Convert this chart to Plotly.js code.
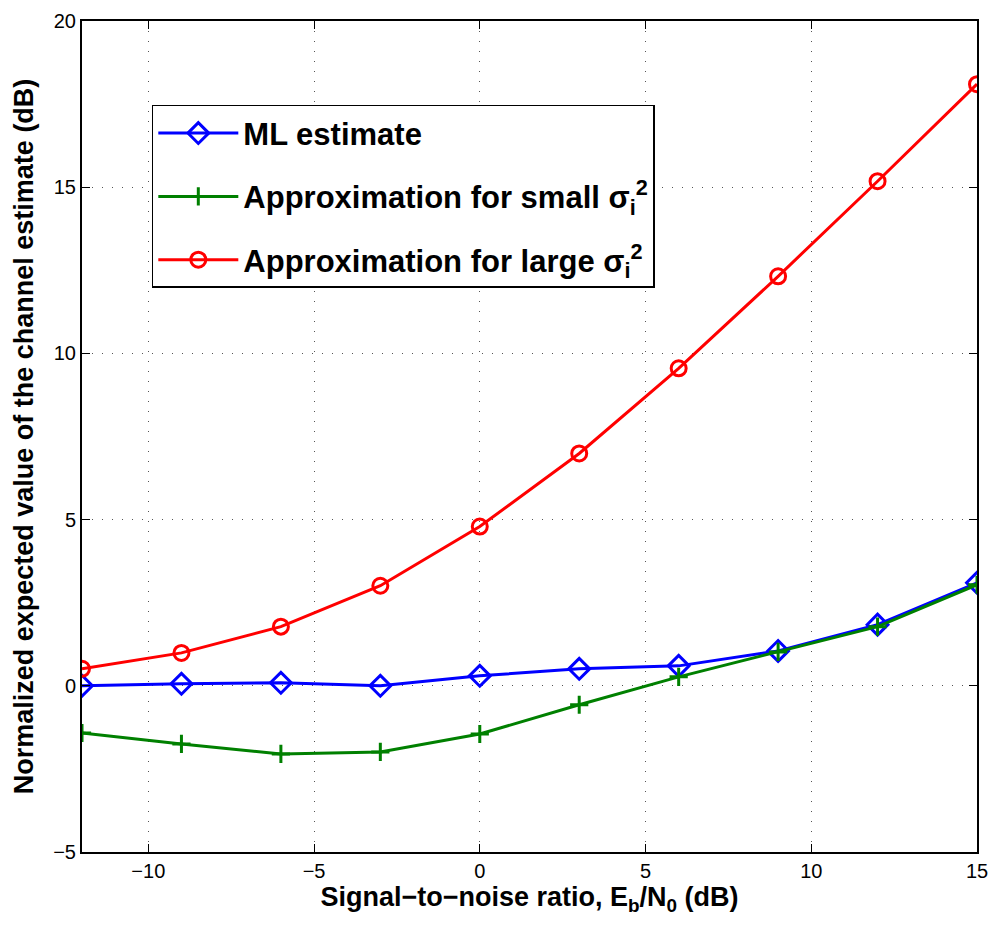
<!DOCTYPE html>
<html>
<head>
<meta charset="utf-8">
<script src="https://cdn.plot.ly/plotly-3.0.1.min.js"></script>
<style>html,body{margin:0;padding:0;background:#fff;}#chart{width:994px;height:929px;}</style>
</head>
<body>
<div id="chart"></div>
<script>
const snr = [-12, -9, -6, -3, 0, 3, 6, 9, 12, 15];
const mlEstimate = [0.0, 0.06, 0.09, 0.0, 0.3, 0.51, 0.6, 1.05, 1.84, 3.1];
const approxSmall = [-1.42, -1.75, -2.05, -1.99, -1.45, -0.57, 0.27, 1.02, 1.78, 3.04];
const approxLarge = [0.51, 0.99, 1.78, 3.01, 4.79, 6.99, 9.55, 12.32, 15.18, 18.1];
const xTicks = [-10, -5, 0, 5, 10, 15];
const yTicks = [-5, 0, 5, 10, 15, 20];
const names = ['ML estimate', 'Approximation for small σ<sub>i</sub><sup>2</sup>', 'Approximation for large σ<sub>i</sub><sup>2</sup>'];

const traces = [
  {x: snr, y: mlEstimate, name: names[0], legendgroup: 'a', mode: 'lines+markers',
   line: {color: '#0000ff', width: 3},
   marker: {symbol: 'diamond-open', size: 16, color: '#0000ff', line: {width: 3, color: '#0000ff'}}},
  {x: snr, y: approxSmall, name: names[1], legendgroup: 'b', mode: 'lines+markers',
   line: {color: '#008000', width: 3},
   marker: {symbol: 'cross-thin-open', size: 13, color: '#008000', line: {width: 3, color: '#008000'}}},
  {x: snr, y: approxLarge, name: names[2], legendgroup: 'c', mode: 'lines+markers',
   line: {color: '#ff0000', width: 3},
   marker: {symbol: 'circle-open', size: 15, color: '#ff0000', line: {width: 3, color: '#ff0000'}}}
];

const axisCommon = {
  showline: true, mirror: 'ticks', linecolor: '#000', linewidth: 2,
  ticks: 'inside', ticklen: 8, tickcolor: '#000', tickwidth: 1,
  showgrid: true, gridcolor: '#555', griddash: '1px,9px', gridwidth: 1,
  zeroline: false,
  tickfont: {family: 'Liberation Sans, Arial, sans-serif', size: 20, color: '#000'}
};

const layout = {
  width: 994, height: 929,
  margin: {l: 82, r: 17, t: 21, b: 77},
  paper_bgcolor: '#fff', plot_bgcolor: '#fff',
  showlegend: true,
  xaxis: Object.assign({}, axisCommon, {
    range: [-12, 15], tickvals: xTicks, ticktext: xTicks.map(v => v < 0 ? '\u2212' + Math.abs(v) : String(v)),
    title: {text: 'Signal\u2212to\u2212noise ratio, E<sub>b</sub>/N<sub>0</sub> (dB)', standoff: 6,
            font: {family: 'Liberation Sans, Arial, sans-serif', size: 27, color: '#000', weight: 'bold'}}
  }),
  yaxis: Object.assign({}, axisCommon, {
    range: [-5, 20], tickvals: yTicks, ticktext: yTicks.map(v => v < 0 ? '\u2212' + Math.abs(v) : String(v)),
    title: {text: 'Normalized expected value of the channel estimate (dB)', standoff: 12,
            font: {family: 'Liberation Sans, Arial, sans-serif', size: 27, color: '#000', weight: 'bold'}}
  }),
  legend: {
    x: 0.078, y: 0.899, xanchor: 'left', yanchor: 'top',
    bgcolor: '#fff', bordercolor: '#000', borderwidth: 1.5,
    font: {family: 'Liberation Sans, Arial, sans-serif', size: 31, color: '#000', weight: 'bold'},
    itemwidth: 80, tracegroupgap: 20
  }
};

Plotly.newPlot('chart', traces, layout, {displayModeBar: false});
</script>
</body>
</html>
